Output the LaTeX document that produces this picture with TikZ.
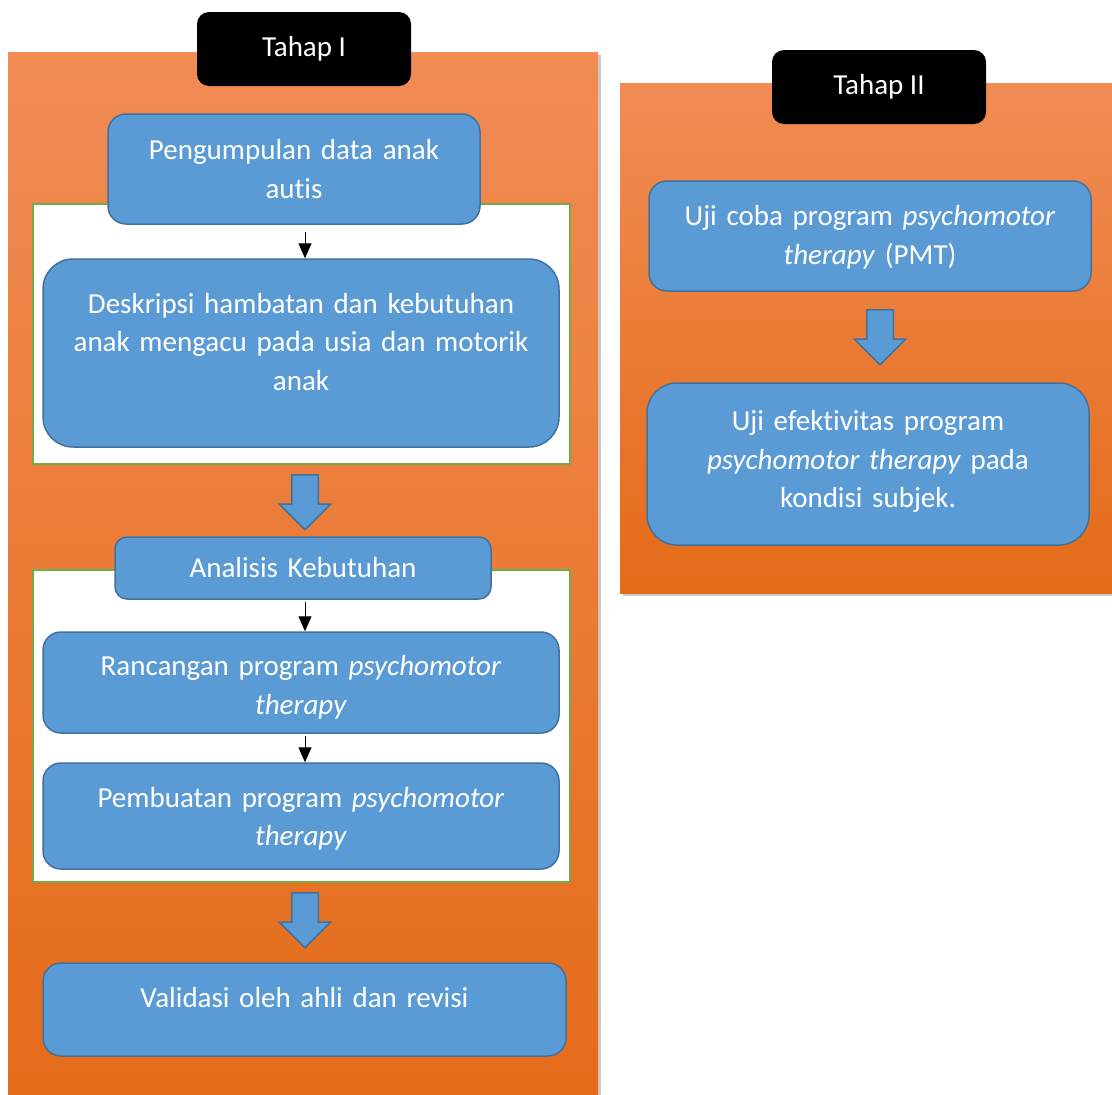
\documentclass[tikz,border=0pt]{standalone}
\usepackage{fontspec}
\setmainfont{Carlito}[Ligatures=NoCommon]
\usetikzlibrary{arrows.meta,shapes.arrows,shadows}

\definecolor{boxblue}{RGB}{91,155,213}
\definecolor{boxline}{RGB}{65,113,156}
\definecolor{framegreen}{RGB}{112,173,71}
\definecolor{orangetop}{RGB}{241,140,85}
\definecolor{orangemid}{RGB}{245,126,44}
\definecolor{orangebot}{RGB}{228,107,24}

\newcommand{\boxfont}{\fontsize{29}{38.5}\selectfont}

\tikzset{
  stepbox/.style={draw=boxline, fill=boxblue, line width=1.5pt, rounded corners=18pt,
    text=white, align=center, font=\boxfont, inner sep=0pt},
  tagbox/.style={fill=black, rounded corners=12pt, text=white, font=\boxfont,
    minimum width=214pt, minimum height=74pt, inner sep=0pt},
  panel/.style={top color=orangetop, middle color=orangemid, bottom color=orangebot,
    drop shadow={shadow xshift=3pt, shadow yshift=-3pt, opacity=.35, fill=black!60}},
  groupframe/.style={draw=framegreen, fill=white, line width=2pt},
  flowarrow/.style={single arrow, draw=boxline, fill=boxblue, line width=1.5pt,
    rotate=-90, anchor=tail, minimum height=55pt, inner xsep=0pt, inner ysep=12.5pt,
    single arrow head extend=12.5pt, single arrow tip angle=90},
  thinarrow/.style={-{Triangle[width=13pt,length=15pt]}, line width=1pt}
}

\begin{document}
\begin{tikzpicture}[x=1pt, y=-1pt]
  \useasboundingbox (0,0) rectangle (1112,1095);

  % panels
  \path[panel] (8,52) rectangle (598,1100);
  \path[panel] (620,83) rectangle (1120,593);

  % green frames
  \path[groupframe] (33,204) rectangle (570,464);
  \path[groupframe] (33,570) rectangle (570,882);

  % Tahap I
  \node[stepbox, minimum width=372pt, minimum height=110pt, text width=360pt]
    (pengumpulan) at (294,169) {Pengumpulan data anak\\autis};
  \node[stepbox, rounded corners=30pt, minimum width=516pt, minimum height=188pt, text width=500pt]
    (deskripsi) at (301,353) {Deskripsi hambatan dan kebutuhan\\anak mengacu pada usia dan motorik\\anak\par\vspace{22pt}};
  \node[flowarrow] (flowA) at (305,474) {};
  \node[stepbox, rounded corners=12pt, minimum width=376pt, minimum height=62pt, text width=360pt]
    (analisis) at (303,568) {Analisis Kebutuhan};
  \node[stepbox, minimum width=516pt, minimum height=101pt, text width=500pt]
    (rancangan) at (301,682.5) {Rancangan program \textit{psychomotor}\\\textit{therapy}\par\vspace{-10pt}};
  \node[stepbox, minimum width=516pt, minimum height=106pt, text width=500pt]
    (pembuatan) at (301,816) {Pembuatan program \textit{psychomotor}\\\textit{therapy}\par\vspace{-6pt}};
  \node[flowarrow] (flowB) at (305,892) {};
  \node[stepbox, minimum width=523pt, minimum height=93pt, text width=500pt]
    (validasi) at (304.5,1009.5) {Validasi oleh ahli dan revisi\par\vspace{23pt}};

  % Tahap II
  \node[stepbox, minimum width=442pt, minimum height=110pt, text width=430pt]
    (ujicoba) at (870,236) {Uji coba program \textit{psychomotor}\\\textit{therapy} (PMT)\par\vspace{-3pt}};
  \node[flowarrow] (flowC) at (880,309) {};
  \node[stepbox, rounded corners=30pt, minimum width=442pt, minimum height=162pt, text width=430pt]
    (efektivitas) at (868,464) {Uji efektivitas program\\\textit{psychomotor therapy} pada\\kondisi subjek.\par\vspace{5pt}};

  % tags
  \node[tagbox] (tahapI) at (304,49) {Tahap I};
  \node[tagbox] (tahapII) at (879,87) {Tahap II};

  % connectors
  \draw[thinarrow, shorten <=7pt] (pengumpulan.south -| flowA.tail) -- (deskripsi.north -| flowA.tail);
  \draw[thinarrow, shorten <=2pt] (analisis.south -| flowA.tail) -- (rancangan.north -| flowA.tail);
  \draw[thinarrow, shorten <=2pt] (rancangan.south -| flowA.tail) -- (pembuatan.north -| flowA.tail);
\end{tikzpicture}
\end{document}
